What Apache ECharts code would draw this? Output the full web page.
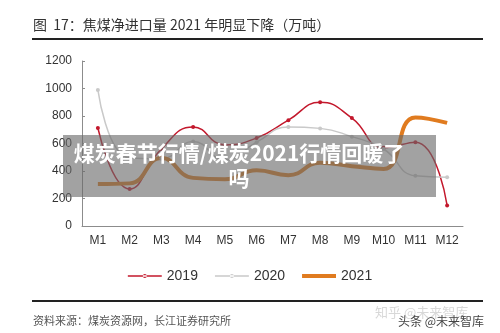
<!DOCTYPE html>
<html>
<head>
<meta charset="utf-8">
<script src="https://cdn.jsdelivr.net/npm/echarts@6/dist/echarts.min.js"></script>
<style>
  html, body { margin: 0; padding: 0; background: #fff; }
  #chart { width: 500px; height: 333px; }
</style>
</head>
<body>
<div id="chart"></div>
<script>
const months = ["M1", "M2", "M3", "M4", "M5", "M6", "M7", "M8", "M9", "M10", "M11", "M12"];
const y2019 = [713, 270, 560, 720, 590, 640, 770, 900, 785, 570, 610, 150];
const y2020 = [990, 495, 490, 615, 480, 610, 720, 710, 650, 560, 365, 355];
const y2021 = [305, 310, 495, 350, 340, 405, 370, 460, 435, 415, 790, 750];
const yTicks = [0, 200, 400, 600, 800, 1000, 1200];

const font = "'Noto Sans CJK SC', 'Noto Sans', sans-serif";
const latin = "'Liberation Sans', Arial, sans-serif";
const chart = echarts.init(document.getElementById("chart"));

// legend icon: thin line with a small dot in the middle
const thinIcon = "path://M0,2.25L34,2.25L34,3.75L0,3.75Z M15,3a2,2 0 1,0 4,0a2,2 0 1,0 -4,0 M17,0L17,0.01 M17,6L17,6.01";
const thickIcon = "path://M0,1L34,1L34,5L0,5Z M17,0L17,0.01 M17,6L17,6.01";

function lineSeries(name, data, color, width, symbolSize) {
  return {
    name: name,
    type: "line",
    smooth: true,
    data: data,
    symbol: "circle",
    symbolSize: symbolSize,
    showSymbol: symbolSize > 0,
    lineStyle: { color: color, width: width },
    itemStyle: { color: color },
  };
}

chart.setOption({
  backgroundColor: "#fff",
  animation: false,
  textStyle: { fontFamily: font },
  grid: { left: 82, right: 37, top: 61, bottom: 107 },
  legend: {
    top: 264,
    left: "center",
    itemWidth: 34,
    itemHeight: 6,
    itemGap: 17,
    textStyle: { fontSize: 14, color: "#333", fontFamily: latin },
    data: [
      { name: "2019", icon: thinIcon },
      { name: "2020", icon: thinIcon },
      { name: "2021", icon: thickIcon },
    ],
  },
  xAxis: {
    type: "category",
    data: months,
    axisLine: { lineStyle: { color: "#8c8c8c", width: 1 } },
    axisTick: { inside: true, length: 3, lineStyle: { color: "#8c8c8c" } },
    axisLabel: { color: "#333", fontSize: 12, margin: 9, fontFamily: latin },
  },
  yAxis: {
    type: "value",
    min: yTicks[0],
    max: yTicks[yTicks.length - 1],
    interval: 200,
    axisLine: { show: true, lineStyle: { color: "#8c8c8c", width: 1 } },
    axisTick: { show: true, inside: true, length: 3, lineStyle: { color: "#8c8c8c" } },
    splitLine: { show: false },
    axisLabel: { color: "#333", fontSize: 12, margin: 10, fontFamily: latin, formatter: (v) => String(v) },
  },
  series: [
    lineSeries("2019", y2019, "#c3182c", 1.5, 4),
    lineSeries("2020", y2020, "#c9c9c9", 1.5, 4),
    lineSeries("2021", y2021, "#e07b1f", 4, 0),
  ],
  graphic: [
    { type: "text", left: 33, top: 18, style: { text: "图  17：焦煤净进口量 2021 年明显下降（万吨）", font: "14px " + font, fill: "#333" } },
    { type: "line", shape: { x1: 32, y1: 39, x2: 483, y2: 39 }, style: { stroke: "#222", lineWidth: 2 } },
    { type: "line", shape: { x1: 32, y1: 301, x2: 483, y2: 301 }, style: { stroke: "#222", lineWidth: 2 } },
    { type: "text", left: 33, top: 315, style: { text: "资料来源：煤炭资源网，长江证券研究所", font: "11px " + font, fill: "#555" } },
    { type: "text", left: 375, top: 306, style: { text: "知乎 @未来智库", font: "13px " + font, fill: "#d8d8d8" } },
    { type: "text", left: 398, top: 315, style: { text: "头条 @未来智库", font: "12px " + font, fill: "#444" } },
    { type: "rect", shape: { x: 63, y: 135, width: 373, height: 62 }, style: { fill: "rgba(105,105,105,0.62)" }, z: 100 },
    { type: "text", x: 239, y: 153, z: 101, style: { text: "煤炭春节行情/煤炭2021行情回暖了", font: "bold 21px " + font, fill: "#fff", align: "center", verticalAlign: "middle" } },
    { type: "text", x: 239, y: 178, z: 101, style: { text: "吗", font: "bold 21px " + font, fill: "#fff", align: "center", verticalAlign: "middle" } },
  ],
});
</script>
</body>
</html>
